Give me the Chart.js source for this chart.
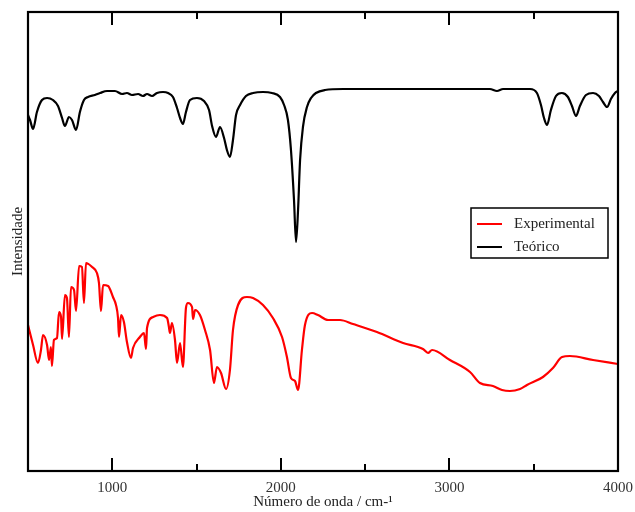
<!DOCTYPE html>
<html>
<head>
<meta charset="utf-8">
<script src="https://cdn.jsdelivr.net/npm/chart.js@4/dist/chart.umd.min.js"></script>
<style>
    html, body { margin: 0; padding: 0; background: #fff; }
</style>
</head>
<body>
<canvas id="irChart" width="635" height="512"></canvas>
<script>
// Wavenumber (cm-1) and intensity (a.u.)
const expWavenumber = [500, 530, 559, 577, 589, 613, 625, 636, 642, 654, 672, 684, 696, 702, 719, 731, 743, 755, 773, 785,
    803, 820, 832, 844, 880, 909, 921, 933, 945, 975, 1004, 1022, 1034, 1040, 1052, 1069, 1087, 1111, 1123, 1164,
    1188, 1200, 1206, 1242, 1283, 1325, 1336, 1342, 1354, 1372, 1384, 1402, 1419, 1437, 1449, 1473, 1479, 1491, 1520, 1550,
    1580, 1603, 1621, 1645, 1675, 1698, 1716, 1746, 1799, 1835, 1894, 1953, 2007, 2036, 2060, 2084, 2102, 2125, 2143, 2185,
    2220, 2280, 2351, 2428, 2570, 2725, 2843, 2873, 2897, 3003, 3122, 3181, 3258, 3312, 3359, 3419, 3460, 3555, 3614, 3668,
    3715, 3852, 4000];
const expIntensity = [146, 126, 108, 121, 136, 126, 111, 124, 105, 131, 133, 159, 154, 132, 176, 173, 134, 184, 181, 160,
    205, 204, 168, 208, 204, 198, 188, 160, 186, 185, 174, 166, 153, 134, 156, 149, 129, 113, 123, 134,
    138, 122, 143, 154, 156, 153, 144, 138, 148, 131, 108, 128, 104, 163, 168, 164, 152, 161, 156, 141,
    121, 88, 104, 98, 82, 101, 141, 166, 174, 173, 166, 153, 134, 114, 93, 90, 81, 121, 146, 158,
    156, 151, 151, 147, 139, 128, 122, 118, 121, 111, 99, 88, 85, 81, 80, 82, 86, 94, 103, 114,
    115, 111, 107];

const teoWavenumber = [500, 512, 530, 553, 583, 613, 648, 678, 702, 719, 743, 761, 785, 808, 832, 856, 897, 927, 969, 1016,
    1058, 1087, 1117, 1153, 1182, 1206, 1236, 1265, 1301, 1331, 1360, 1384, 1402, 1419, 1437, 1461, 1502, 1544, 1574, 1592,
    1615, 1639, 1663, 1680, 1698, 1716, 1734, 1758, 1793, 1835, 1894, 1947, 1995, 2019, 2042, 2060, 2078, 2090, 2102, 2114,
    2131, 2155, 2179, 2208, 2262, 2369, 2487, 2707, 3003, 3240, 3282, 3318, 3478, 3519, 3543, 3561, 3579, 3602, 3632, 3667,
    3703, 3727, 3751, 3774, 3810, 3852, 3887, 3911, 3935, 3958, 3982, 4000];
const teoIntensity = [356, 351, 342, 359, 371, 373, 371, 365, 353, 345, 354, 351, 341, 359, 371, 374, 376, 378, 380, 380,
    377, 378, 376, 377, 375, 377, 375, 378, 379, 378, 374, 363, 353, 347, 359, 371, 373, 370, 361, 345,
    334, 344, 333, 321, 314, 331, 356, 366, 375, 378, 379, 378, 374, 366, 351, 321, 271, 229, 261, 311,
    344, 364, 373, 378, 381, 382, 382, 382, 382, 382, 380, 382, 382, 378, 366, 353, 346, 361, 375, 378,
    374, 365, 355, 365, 376, 378, 375, 369, 364, 372, 378, 380];

const majorTicks = [1000, 2000, 3000, 4000];
const minorTicks = [1500, 2500, 3500];
const seriesLabels = ["Experimental", "Teórico"];
const seriesColors = ["#ff0000", "#000000"];

const serif = "'Liberation Serif', 'DejaVu Serif', serif";

function toPoints(xs, ys) {
    return xs.map((x, i) => ({ x: x, y: ys[i] }));
}

// frame, inward ticks and the boxed legend
const framePlugin = {
    id: "frame",
    afterDraw(chart) {
        const ctx = chart.ctx;
        const a = chart.chartArea;
        const xs = chart.scales.x;
        ctx.save();
        ctx.strokeStyle = "#000";
        ctx.lineWidth = 2.2;
        ctx.strokeRect(a.left, a.top, a.right - a.left, a.bottom - a.top);

        ctx.lineWidth = 2;
        ctx.beginPath();
        majorTicks.forEach(v => {
            let px = Math.round(xs.getPixelForValue(v));
            ctx.moveTo(px, a.bottom); ctx.lineTo(px, a.bottom - 13);
            ctx.moveTo(px, a.top); ctx.lineTo(px, a.top + 13);
        });
        minorTicks.forEach(v => {
            let px = Math.round(xs.getPixelForValue(v));
            ctx.moveTo(px, a.bottom); ctx.lineTo(px, a.bottom - 7);
            ctx.moveTo(px, a.top); ctx.lineTo(px, a.top + 7);
        });
        ctx.stroke();

        // legend box
        let lx = 471, ly = 208, lw = 137, lh = 50;
        ctx.fillStyle = "#fff";
        ctx.fillRect(lx, ly, lw, lh);
        ctx.lineWidth = 1.5;
        ctx.strokeRect(lx, ly, lw, lh);
        ctx.font = "15px " + serif;
        ctx.textBaseline = "middle";
        seriesLabels.forEach((label, i) => {
            let y = ly + 16 + i * 23;
            ctx.strokeStyle = seriesColors[i];
            ctx.lineWidth = 2;
            ctx.beginPath();
            ctx.moveTo(lx + 6, y); ctx.lineTo(lx + 31, y);
            ctx.stroke();
            ctx.fillStyle = "#222";
            ctx.fillText(label, lx + 43, y);
        });
        ctx.restore();
    }
};

const ctx = document.getElementById("irChart").getContext("2d");
new Chart(ctx, {
    type: "line",
    data: {
        datasets: [{
            label: seriesLabels[0],
            data: toPoints(expWavenumber, expIntensity),
            borderColor: seriesColors[0],
            borderWidth: 2.2,
            pointRadius: 0,
            cubicInterpolationMode: "monotone"
        }, {
            label: seriesLabels[1],
            data: toPoints(teoWavenumber, teoIntensity),
            borderColor: seriesColors[1],
            borderWidth: 2.2,
            pointRadius: 0,
            cubicInterpolationMode: "monotone"
        }]
    },
    options: {
        responsive: false,
        animation: false,
        layout: { padding: { top: 12, right: 17, left: 0, bottom: 0 } },
        plugins: {
            legend: { display: false },
            tooltip: { enabled: false }
        },
        scales: {
            x: {
                type: "linear",
                min: 500,
                max: 4000,
                grid: { display: false, drawTicks: false },
                border: { display: false },
                afterBuildTicks: s => { s.ticks = majorTicks.map(v => ({ value: v })); },
                afterFit: s => { s.height = 41; s.paddingLeft = 0; s.paddingRight = 0; },
                ticks: {
                    padding: 8,
                    maxRotation: 0,
                    color: "#333",
                    font: { family: serif, size: 15 },
                    callback: v => String(v)
                },
                title: {
                    display: true,
                    text: "Número de onda / cm-¹",
                    color: "#222",
                    font: { family: serif, size: 15 },
                    padding: { top: 0, bottom: 1 }
                }
            },
            y: {
                min: 0,
                max: 459,
                grid: { display: false, drawTicks: false },
                border: { display: false },
                ticks: { display: false },
                afterFit: s => { s.width = 28; },
                title: {
                    display: true,
                    text: "Intensidade",
                    color: "#222",
                    font: { family: serif, size: 15 },
                    padding: { top: 9, bottom: 0 }
                }
            }
        }
    },
    plugins: [framePlugin]
});
</script>
</body>
</html>
